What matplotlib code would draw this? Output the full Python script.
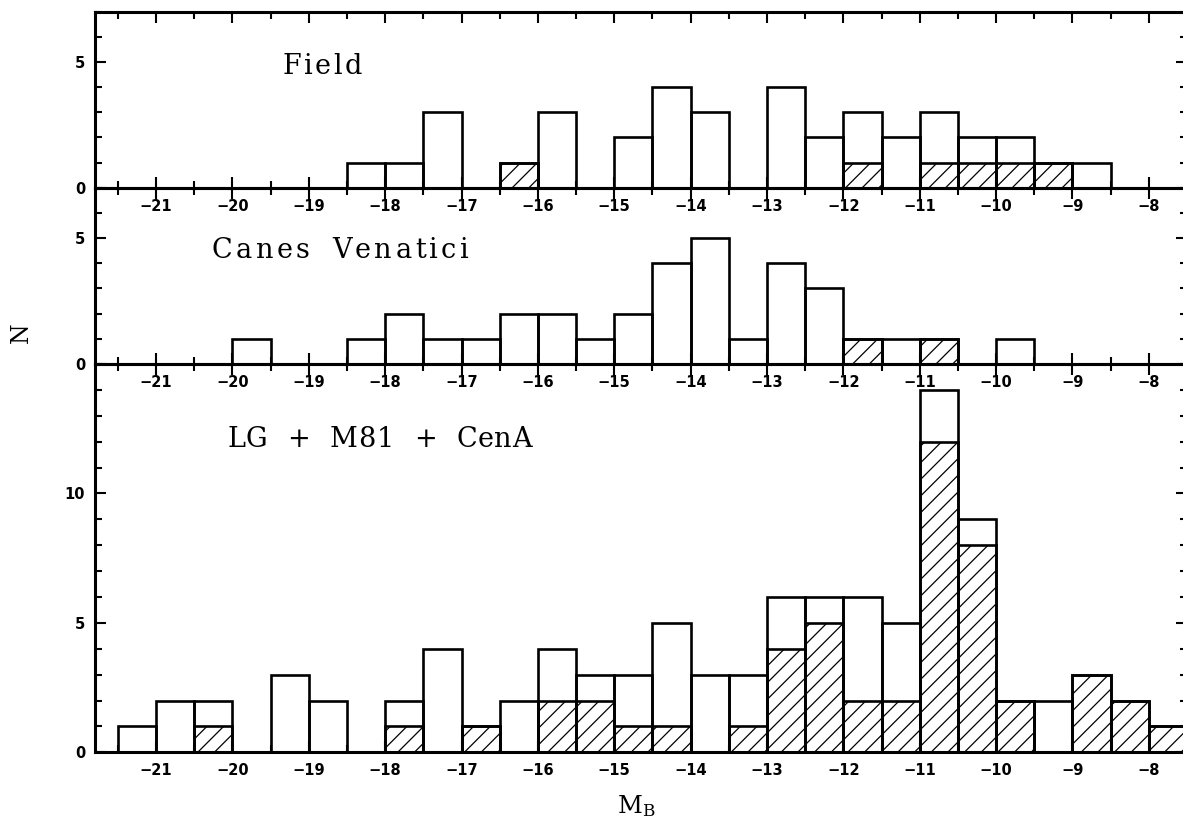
import numpy as np
import matplotlib
matplotlib.use("Agg")
import matplotlib.pyplot as plt
from matplotlib.ticker import MultipleLocator, FixedLocator
from matplotlib.font_manager import FontProperties
from matplotlib.transforms import IdentityTransform

# ---------------- data ----------------
bin_left = [-21.5, -21.0, -20.5, -20.0, -19.5, -19.0, -18.5, -18.0, -17.5, -17.0,
            -16.5, -16.0, -15.5, -15.0, -14.5, -14.0, -13.5, -13.0, -12.5, -12.0,
            -11.5, -11.0, -10.5, -10.0, -9.5, -9.0, -8.5, -8.0]
bin_width = 0.5

field_total = [0, 0, 0, 0, 0, 0, 1, 1, 3, 0,
               1, 3, 0, 2, 4, 3, 0, 4, 2, 3,
               2, 3, 2, 2, 1, 1, 0, 0]
field_hatched = [0, 0, 0, 0, 0, 0, 0, 0, 0, 0,
                 1, 0, 0, 0, 0, 0, 0, 0, 0, 1,
                 0, 1, 1, 1, 1, 0, 0, 0]

cvn_total = [0, 0, 0, 1, 0, 0, 1, 2, 1, 1,
             2, 2, 1, 2, 4, 5, 1, 4, 3, 1,
             1, 1, 0, 1, 0, 0, 0, 0]
cvn_hatched = [0, 0, 0, 0, 0, 0, 0, 0, 0, 0,
               0, 0, 0, 0, 0, 0, 0, 0, 0, 1,
               0, 1, 0, 0, 0, 0, 0, 0]

lg_total = [1, 2, 2, 0, 3, 2, 0, 2, 4, 1,
            2, 4, 3, 3, 5, 3, 3, 6, 6, 6,
            5, 14, 9, 2, 2, 3, 2, 1]
lg_hatched = [0, 0, 1, 0, 0, 0, 0, 1, 0, 1,
              0, 2, 2, 1, 1, 0, 1, 4, 5, 2,
              2, 12, 8, 2, 0, 3, 2, 1]

panel_labels = ["Field", "Canes Venatici", "LG + M81 + CenA"]
x_major_ticks = list(range(-21, -7))
xlabel = r"M$_{\mathrm{B}}$"
ylabel = "N"

# ---------------- style ----------------
plt.rcParams["hatch.linewidth"] = 0.9
plt.rcParams["mathtext.fontset"] = "dejavuserif"

W, H = 1183, 821
fig = plt.figure(figsize=(W / 100, H / 100), dpi=100)
renderer = fig.canvas.get_renderer()

left = 95 / W
right = 1187 / W
axw = right - left
rows = [(12.0, 187.7), (187.7, 364.0), (364.0, 752.3)]
ylims = [7, 7, 15]
ymajor = [[0, 5], [0, 5], [0, 5, 10]]
label_pos = [(-19.34, 4.51), (-20.27, 4.19), (-20.07, 11.8)]
tracking = [2.3, 3.4, 0.6]     # extra px between letters
word_gap = [0, 22, 20]         # px between words
series = [(field_total, field_hatched), (cvn_total, cvn_hatched), (lg_total, lg_hatched)]

lw_bar = 1.9
lw_spine = 2.2
textfont = "DejaVu Serif"
tickfont = "DejaVu Sans"
label_prop = FontProperties(family=textfont, size=19.5)


def advance(ch, prop):
    w1, _, _ = renderer.get_text_width_height_descent("l" + ch + "l", prop, ismath=False)
    w0, _, _ = renderer.get_text_width_height_descent("ll", prop, ismath=False)
    return w1 - w0


def tracked_text(ax, x, y, s, track, gap, prop):
    px, py = ax.transData.transform((x, y))
    cur = px
    words = s.split(" ")
    for wi, word in enumerate(words):
        for ci, ch in enumerate(word):
            fig.text(cur, py, ch, transform=IdentityTransform(), ha="left",
                     va="baseline", fontproperties=prop, color="black")
            cur += advance(ch, prop)
            if ci < len(word) - 1:
                cur += track
        if wi < len(words) - 1:
            cur += gap


for i, ((tot, hat), (ytop, ybot)) in enumerate(zip(series, rows)):
    ax = fig.add_axes([left, 1 - ybot / H, axw, (ybot - ytop) / H])
    ax.set_facecolor("none")
    ax.set_zorder(10 - i)
    xl = np.array(bin_left)
    t = np.array(tot)
    h = np.array(hat)
    mt = t > 0
    mh = h > 0
    ax.bar(xl[mt], t[mt], width=bin_width, align="edge", fill=False,
           edgecolor="black", linewidth=lw_bar, joinstyle="miter")
    ax.bar(xl[mh], h[mh], width=bin_width, align="edge", fill=False,
           edgecolor="black", linewidth=lw_bar, hatch="//", joinstyle="miter")
    ax.set_xlim(-21.8, -7.5)
    ax.set_ylim(0, ylims[i])
    ax.xaxis.set_major_locator(FixedLocator(x_major_ticks))
    ax.xaxis.set_minor_locator(MultipleLocator(0.5))
    ax.yaxis.set_major_locator(FixedLocator(ymajor[i]))
    ax.yaxis.set_minor_locator(MultipleLocator(1))
    ax.tick_params(which="both", direction="in", top=True, right=True,
                   width=1.5, color="black")
    ax.tick_params(which="major", length=8)
    ax.tick_params(which="minor", length=5)
    ax.tick_params(axis="x", which="major", pad=8)
    ax.tick_params(axis="y", which="major", pad=7)
    for sp in ax.spines.values():
        sp.set_linewidth(lw_spine)
    for lab in ax.get_xticklabels() + ax.get_yticklabels():
        lab.set_fontfamily(tickfont)
        lab.set_fontweight("bold")
        lab.set_fontsize(10.5)
    tracked_text(ax, label_pos[i][0], label_pos[i][1], panel_labels[i],
                 tracking[i], word_gap[i], label_prop)

fig.text(21 / W, 1 - 333 / H, ylabel, rotation=90, ha="center", va="center",
         fontsize=17, family=textfont)
fig.text(636 / W, 1 - 813 / H, xlabel, ha="center", va="baseline",
         fontsize=17.5, family=textfont)

fig.savefig("out.png", dpi=100)
